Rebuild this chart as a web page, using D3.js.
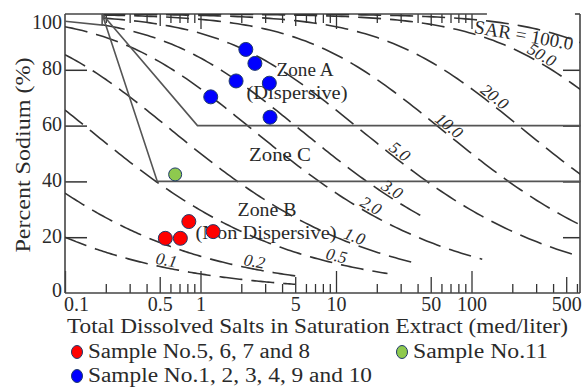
<!DOCTYPE html>
<html>
<head>
<meta charset="utf-8">
<script src="https://cdn.jsdelivr.net/npm/d3@7"></script>
<style>
  body { margin: 0; background: #fff; }
  text { font-family: "Liberation Serif", "Times New Roman", serif; fill: #2a2a2a; }
</style>
</head>
<body>
<svg width="584" height="387"></svg>
<script>
// SAR iso-lines on the diagram (SAR = Na / sqrt((Ca+Mg)/2))
var sarLevels = [0.1, 0.2, 0.5, 1, 2, 3, 5, 10, 20, 50, 100];
var sarNames  = ["0.1", "0.2", "0.5", "1.0", "2.0", "3.0", "5.0", "10.0", "20.0", "50.0", "SAR = 100.0"];
var sarStart  = [0.1, 0.1, 0.1, 0.1, 0.1, 0.188, 0.188, 0.188, 0.188, 0.188, 0.188];
var sarEnd    = [5, 5, 24, 37, 120, 45, 640, 640, 640, 640, 640];
// TDS at which each SAR label sits on its line
var sarLabelTds = [0.548, 2.44, 9.8, 13.1, 17, 24.2, 27.3, 63, 137, 310, 250];

// zone boundaries (TDS, % Na)
var zoneAC = [[0.188, 100], [0.95, 60], [640, 60]];
var zoneBC = [[0.188, 100], [0.48, 40], [640, 40]];
var notch  = [[0.1, 97.4], [0.188, 96], [0.188, 100]];

// samples
var redTds   = [0.55, 0.71, 0.82, 1.24];
var redNa    = [19.6, 19.6, 25.6, 22.0];
var blueTds  = [2.16, 2.52, 1.83, 3.22, 1.19, 3.26];
var blueNa   = [87.3, 82.3, 76.0, 75.2, 70.3, 63.0];
var greenTds = [0.65];
var greenNa  = [42.5];

var xLabels = [0.1, 0.5, 1, 5, 10, 50, 100, 500];
var yLabels = [0, 20, 40, 60, 80, 100];

(function() {
  var svg = d3.select("svg");
  var mL = 65, mR = 580, mT = 14, mB = 293;

  var x = d3.scaleLog().domain([0.1, 632]).range([mL, mR]);
  var y = d3.scaleLinear().domain([0, 100]).range([mB, mT]);

  function percentNa(sar, tds) {
    var s2 = sar * sar;
    return 100 * (-s2 + Math.sqrt(s2 * s2 + 8 * tds * s2)) / (4 * tds);
  }

  // ticks 0.1 .. 600
  var allTicks = [];
  [0.1, 1, 10, 100].forEach(function(dec) {
    for (var k = 1; k <= 9; k++) {
      var v = +(dec * k).toPrecision(3);
      if (v <= 632) allTicks.push(v);
    }
  });
  function lvl(v) {
    var m = +(v / Math.pow(10, Math.floor(Math.log10(v) + 1e-9))).toFixed(3);
    return m === 1 ? 2 : (m === 5 ? 1 : 0);
  }

  // bottom axis
  var gx = svg.append("g").attr("transform", "translate(0," + mB + ")")
    .call(d3.axisBottom(x).tickValues(allTicks).tickSizeInner(-9).tickSizeOuter(0).tickPadding(4)
      .tickFormat(function(d) { return xLabels.indexOf(d) >= 0 ? String(d) : ""; }));
  gx.attr("font-size", 20).attr("color", "#333");
  gx.select(".domain").remove();
  gx.selectAll(".tick line").attr("y2", function(d) { return -[9, 16, 22][lvl(d)]; }).attr("stroke-width", 1.3);
  gx.selectAll(".tick text").filter(function(d) { return xLabels.indexOf(d) < 0; }).remove();
  gx.selectAll(".tick").filter(function(d) { return d === 0.1; }).select("text").attr("x", 11);

  // top axis
  var gt = svg.append("g").attr("transform", "translate(0," + mT + ")")
    .call(d3.axisTop(x).tickValues(allTicks.filter(function(d) { return d > 0.1 && d <= 100; }))
      .tickSizeInner(-9).tickSizeOuter(0).tickFormat(""));
  gt.attr("color", "#333");
  gt.select(".domain").remove();
  gt.selectAll(".tick text").remove();
  gt.selectAll(".tick line").attr("y2", function(d) { return [9, 12, 15][lvl(d)]; }).attr("stroke-width", 1.3);

  // left axis
  var gy = svg.append("g").attr("transform", "translate(" + mL + ",0)")
    .call(d3.axisLeft(y).tickValues(yLabels).tickSizeInner(-22).tickSizeOuter(0).tickPadding(3));
  gy.attr("font-size", 20).attr("color", "#333");
  gy.select(".domain").remove();
  gy.selectAll(".tick line").attr("stroke-width", 1.5)
    .filter(function(d) { return d === 0 || d === 100; }).remove();
  gy.selectAll(".tick text").attr("dy", function(d) { return d === 100 ? "0.7em" : (d === 0 ? "0.15em" : "0.25em"); });

  // right axis
  var gr = svg.append("g").attr("transform", "translate(" + mR + ",0)")
    .call(d3.axisRight(y).tickValues([20, 40, 60, 80]).tickSizeInner(-17).tickSizeOuter(0).tickFormat(""));
  gr.attr("color", "#333");
  gr.select(".domain").remove();
  gr.selectAll(".tick text").remove();
  gr.selectAll(".tick line").attr("stroke-width", 1.5);

  // frame
  var frame = svg.append("g").attr("stroke", "#444").attr("stroke-width", 1.6).attr("fill", "none");
  frame.append("line").attr("x1", mL).attr("y1", mT).attr("x2", mL).attr("y2", mB);
  frame.append("line").attr("x1", mL).attr("y1", mB).attr("x2", mR).attr("y2", mB);
  frame.append("line").attr("x1", mR).attr("y1", mT).attr("x2", mR).attr("y2", mB);
  frame.append("line").attr("x1", mL).attr("y1", mT).attr("x2", x(130)).attr("y2", mT);
  frame.append("line").attr("x1", x(580)).attr("y1", mT).attr("x2", mR).attr("y2", mT);

  // SAR curves
  var line = d3.line().x(function(d) { return x(d[0]); }).y(function(d) { return y(d[1]); });
  svg.append("clipPath").attr("id", "plot").append("rect")
    .attr("x", mL).attr("y", mT).attr("width", mR - mL).attr("height", mB - mT);
  var curves = svg.append("g").attr("clip-path", "url(#plot)");
  sarLevels.forEach(function(s, i) {
    var pts = [];
    var a = Math.log10(sarStart[i]), b = Math.log10(sarEnd[i]);
    for (var k = 0; k <= 120; k++) {
      var t = Math.pow(10, a + (b - a) * k / 120);
      pts.push([t, percentNa(s, t)]);
    }
    curves.append("path").attr("d", line(pts))
      .attr("fill", "none").attr("stroke", "#333").attr("stroke-width", 1.6)
      .attr("stroke-dasharray", "23,9");
  });

  // zone lines
  [zoneAC, zoneBC, notch].forEach(function(z) {
    svg.append("path").attr("d", line(z)).attr("fill", "none")
      .attr("stroke", "#555").attr("stroke-width", 1.6);
  });

  // SAR labels, sitting on their curve (the 100 one hangs under it)
  sarLevels.forEach(function(s, i) {
    var t = sarLabelTds[i];
    var px = x(t), py = y(percentNa(s, t));
    var bx = x(t * 1.1), by = y(percentNa(s, t * 1.1));
    var ang = Math.atan2(by - py, bx - px) * 180 / Math.PI;
    var isSar = i === sarLevels.length - 1;
    svg.append("text")
      .attr("transform", "translate(" + px + "," + py + ") rotate(" + (isSar ? 10 : ang) + ")")
      .attr("text-anchor", "middle")
      .attr("dy", isSar ? 15 : -2)
      .attr("font-size", isSar ? 19 : 17)
      .attr("font-style", isSar ? "normal" : "italic")
      .text(sarNames[i]);
  });

  // zone names
  function zoneText(cx, by, str, w) {
    svg.append("text").attr("x", cx - w / 2).attr("y", by)
      .attr("font-size", 19).attr("textLength", w).attr("lengthAdjust", "spacingAndGlyphs").text(str);
  }
  zoneText(305, 76, "Zone A", 57);
  zoneText(297, 99, "(Dispersive)", 101);
  zoneText(280, 161, "Zone C", 62);
  zoneText(267, 216, "Zone B", 59);
  zoneText(266, 239, "(Non Dispersive)", 141);

  // samples
  function dots(tds, na, fill, r) {
    svg.append("g").selectAll("circle").data(tds).join("circle")
      .attr("cx", function(d) { return x(d); })
      .attr("cy", function(d, i) { return y(na[i]); })
      .attr("r", r).attr("fill", fill)
      .attr("stroke", "#1f3a6b").attr("stroke-width", 1);
  }
  dots(redTds, redNa, "#ff0000", 7);
  dots(blueTds, blueNa, "#0000ff", 7);
  dots(greenTds, greenNa, "#8ec94e", 6.5);

  // axis titles
  svg.append("text").attr("transform", "translate(30,155) rotate(-90)")
    .attr("text-anchor", "middle").attr("font-size", 22)
    .attr("textLength", 195).attr("lengthAdjust", "spacingAndGlyphs").text("Percent Sodium (%)");
  svg.append("text").attr("x", 67).attr("y", 333).attr("font-size", 21)
    .attr("textLength", 501).attr("lengthAdjust", "spacingAndGlyphs")
    .text("Total Dissolved Salts in Saturation Extract (med/liter)");

  // legend
  var legend = [
    { lx: 77, ly: 352, fill: "#ff0000", label: "Sample No.5, 6, 7 and 8", w: 222 },
    { lx: 402, ly: 352, fill: "#8ec94e", label: "Sample No.11", w: 135 },
    { lx: 77, ly: 376, fill: "#0000ff", label: "Sample No.1, 2, 3, 4, 9 and 10", w: 284 }
  ];
  var lg = svg.append("g").selectAll("g").data(legend).join("g");
  lg.append("ellipse").attr("cx", function(d) { return d.lx; }).attr("cy", function(d) { return d.ly; })
    .attr("rx", 5.5).attr("ry", 6.5).attr("fill", function(d) { return d.fill; })
    .attr("stroke", "#1f3a6b").attr("stroke-width", 1);
  lg.append("text").attr("x", function(d) { return d.lx + 11; }).attr("y", function(d) { return d.ly + 6; })
    .attr("font-size", 20).attr("textLength", function(d) { return d.w; })
    .attr("lengthAdjust", "spacingAndGlyphs").text(function(d) { return d.label; });
})();
</script>
</body>
</html>
